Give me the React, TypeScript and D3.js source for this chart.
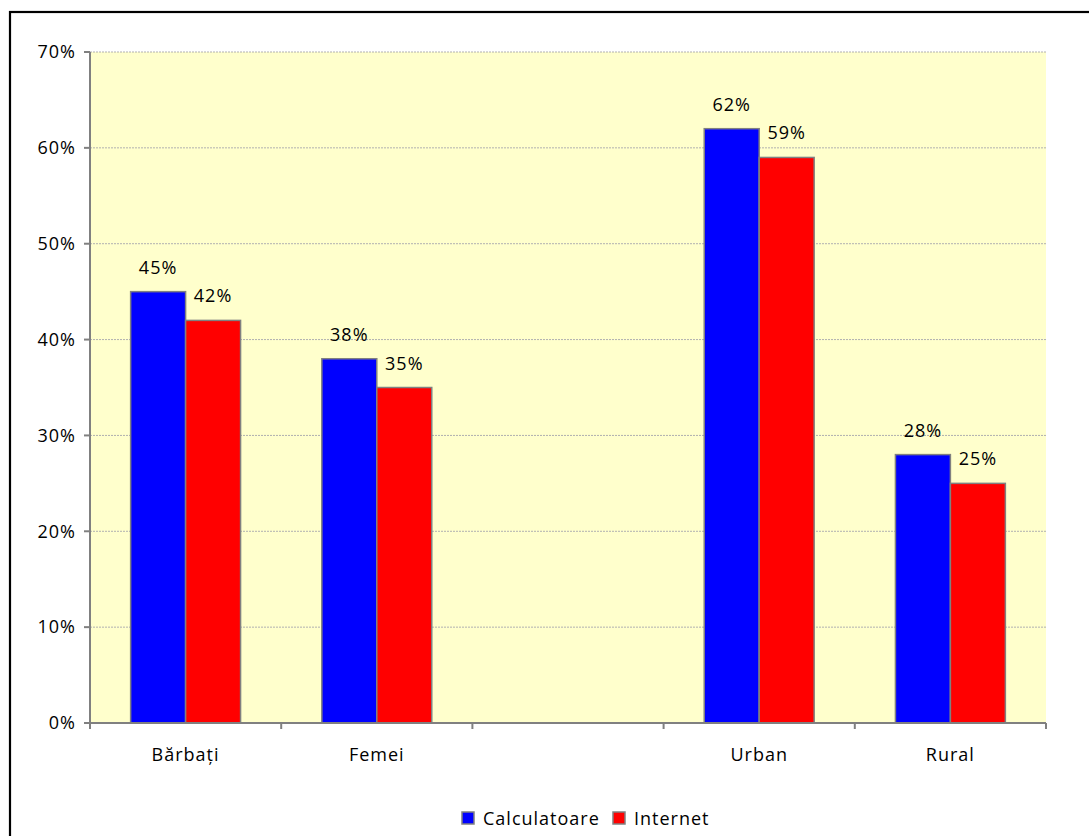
import React from "react";
import * as d3 from "d3";

const categories = ["Bărbați", "Femei", "", "Urban", "Rural"];
const calculatoare: (number | null)[] = [45, 38, null, 62, 28];
const internet: (number | null)[] = [42, 35, null, 59, 25];
const seriesNames = ["Calculatoare", "Internet"];
const seriesColors = ["#0000ff", "#ff0000"];
const yTicks = [0, 10, 20, 30, 40, 50, 60, 70];

const W = 1089;
const H = 836;
const FONT = "'Open Sans', sans-serif";
const FS = 18;
const LS = 1.0;

export default function App() {
  const left = 90, right = 1046, top = 52, bottom = 723;
  const x = d3.scaleBand<string>().domain(categories.map((c, i) => i + "")).range([left, right]);
  const bw = x.bandwidth();
  const barW = bw * 0.2875;
  const y = d3.scaleLinear().domain([0, 70]).range([bottom, top]);
  const series = [calculatoare, internet];
  const boundaries = d3.range(categories.length + 1).map((i) => left + i * bw);

  return (
    <div style={{ position: "fixed", left: 0, top: 0, width: W, height: H, background: "#fff" }}>
      <svg width={W} height={H} style={{ display: "block" }} fontFamily={FONT} fontSize={FS} letterSpacing={LS}>
        <rect x={10} y={12} width={W + 20} height={H + 20} fill="#fff" stroke="#000" strokeWidth={2.2} />
        <rect x={left} y={top} width={right - left} height={bottom - top} fill="#ffffcc" />
        {yTicks.slice(1).map((t) => (
          <line key={t} x1={left} x2={right} y1={y(t)} y2={y(t)} stroke="#b0b0b0" strokeWidth={1} strokeDasharray="2,1" />
        ))}
        {series.map((vals, si) =>
          vals.map((v, ci) => {
            if (v == null) return null;
            const cx = (x(ci + "") as number) + bw / 2;
            const bx = cx - barW + si * barW;
            return (
              <g key={si + "-" + ci}>
                <rect x={bx} y={y(v)} width={barW} height={bottom - y(v)} fill={seriesColors[si]} stroke="#808080" strokeWidth={1.5} />
                <text x={bx + barW / 2} y={y(v) - 18} textAnchor="middle" fill="#000">
                  {v}%
                </text>
              </g>
            );
          })
        )}
        <line x1={left} x2={left} y1={top} y2={bottom} stroke="#808080" strokeWidth={2} />
        <line x1={left} x2={right} y1={bottom} y2={bottom} stroke="#808080" strokeWidth={2} />
        {yTicks.map((t) => (
          <g key={"yt" + t}>
            <line x1={left - 6} x2={left} y1={y(t)} y2={y(t)} stroke="#808080" strokeWidth={2} />
            <text x={76} y={y(t)} dy="0.35em" textAnchor="end" fill="#000">
              {t}%
            </text>
          </g>
        ))}
        {boundaries.map((b, i) => (
          <line key={"xt" + i} x1={b} x2={b} y1={bottom} y2={bottom + 6} stroke="#808080" strokeWidth={2} />
        ))}
        {categories.map((c, i) => (
          <text key={"xl" + i} x={(x(i + "") as number) + bw / 2} y={761} textAnchor="middle" fill="#000">
            {c}
          </text>
        ))}
        <g>
          <rect x={462} y={812} width={12} height={12} fill={seriesColors[0]} stroke="#808080" strokeWidth={1.5} />
          <text x={483} y={825} fill="#000">{seriesNames[0]}</text>
          <rect x={613} y={812} width={12} height={12} fill={seriesColors[1]} stroke="#808080" strokeWidth={1.5} />
          <text x={634} y={825} fill="#000">{seriesNames[1]}</text>
        </g>
      </svg>
    </div>
  );
}
